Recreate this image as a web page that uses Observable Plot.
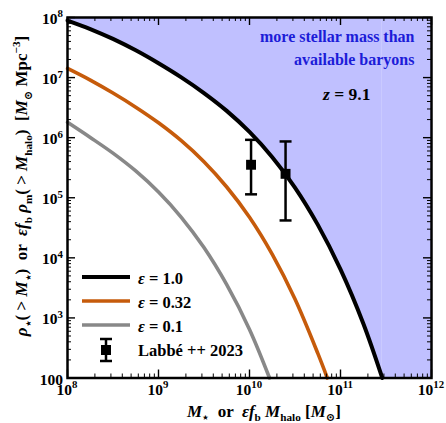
<!DOCTYPE html>
<html>
<head>
<meta charset="utf-8">
<script src="https://cdn.jsdelivr.net/npm/d3@7"></script>
<script src="https://cdn.jsdelivr.net/npm/@observablehq/plot@0.6"></script>
<style>
  html, body { margin: 0; padding: 0; background: #fff; }
  svg text, svg tspan { white-space: pre; font-family: "Liberation Serif", "DejaVu Serif", serif; }
</style>
</head>
<body>
<div id="chart"></div>
<script>
// ---- data ----
const massEps1 = [1e8, 1.78e8, 3.16e8, 5.62e8, 1e9, 1.78e9, 3.16e9, 5.62e9, 1e10, 1.78e10, 3.16e10, 5.62e10, 1e11, 1.78e11, 2.88e11];
const rhoEps1  = [8.91e7, 6.43e7, 4.40e7, 2.84e7, 1.73e7, 1.007e7, 5.52e6, 2.79e6, 1.245e6, 4.73e5, 1.48e5, 3.57e4, 6.43e3, 809, 100];

const massEps032 = [1e8, 1.78e8, 3.16e8, 5.62e8, 1e9, 1.78e9, 3.16e9, 5.62e9, 1e10, 1.78e10, 3.16e10, 5.62e10, 7.16e10];
const rhoEps032  = [1.42e7, 9.08e6, 5.53e6, 3.22e6, 1.77e6, 8.91e5, 3.98e5, 1.51e5, 4.73e4, 1.14e4, 2.06e3, 259, 100];

const massEps01 = [1e8, 1.78e8, 3.16e8, 5.62e8, 1e9, 1.78e9, 3.16e9, 5.62e9, 1e10, 1.66e10];
const rhoEps01  = [1.8e6, 1.007e6, 5.52e5, 2.79e5, 1.245e5, 4.73e4, 1.48e4, 3.57e3, 643, 100];

const labbeMass = [1.04e10, 2.49e10];
const labbeRho  = [3.54e5, 2.5e5];
const labbeLo   = [1.14e5, 4.19e4];
const labbeHi   = [9.2e5, 8.65e5];

const xDomain = [1e8, 1e12];
const yDomain = [100, 1e8];
const xTickExp = [8, 9, 10, 11, 12];
const yTickExp = [2, 3, 4, 5, 6, 7, 8];

const seriesNames = ["1.0", "0.32", "0.1"];
const seriesColors = ["#000000", "#c65b0b", "#888888"];
const seriesWidths = [4, 3.6, 3.6];

// ---- tables ----
const toRows = (xs, ys) => xs.map((x, i) => ({x, y: ys[i]}));
const eps1 = toRows(massEps1, rhoEps1);
const eps032 = toRows(massEps032, rhoEps032);
const eps01 = toRows(massEps01, rhoEps01);
const labbe = labbeMass.map((x, i) => ({x, y: labbeRho[i], lo: labbeLo[i], hi: labbeHi[i]}));

const W = 446, H = 423, mL = 67, mR = 15, mT = 17, mB = 45.5;
const fw = W - mL - mR, fh = H - mT - mB;

const majorX = xTickExp.map(e => Math.pow(10, e));
const majorY = yTickExp.map(e => Math.pow(10, e));
const minorX = d3.scaleLog().domain(xDomain).ticks().filter(v => !majorX.some(m => Math.abs(m - v) / m < 1e-9));
const minorY = d3.scaleLog().domain(yDomain).ticks().filter(v => !majorY.some(m => Math.abs(m - v) / m < 1e-9));

const capSymbol = {draw(ctx, size) { const r = Math.sqrt(size / Math.PI); ctx.moveTo(-r, 0); ctx.lineTo(r, 0); }};

const tickMarks = (len, sw, xs, ys) => [
  Plot.tickX(xs, {x: d => d, insetTop: fh - len, stroke: "#000", strokeWidth: sw}),
  Plot.tickX(xs, {x: d => d, insetBottom: fh - len, stroke: "#000", strokeWidth: sw}),
  Plot.tickY(ys, {y: d => d, insetRight: fw - len, stroke: "#000", strokeWidth: sw}),
  Plot.tickY(ys, {y: d => d, insetLeft: fw - len, stroke: "#000", strokeWidth: sw})
];

const FONT = "Liberation Serif, DejaVu Serif, serif";

const plot = Plot.plot({
  width: W, height: H,
  marginLeft: mL, marginRight: mR, marginTop: mT, marginBottom: mB,
  style: {background: "#fff", fontFamily: FONT},
  x: {type: "log", domain: xDomain, axis: null},
  y: {type: "log", domain: yDomain, axis: null},
  marks: [
    Plot.areaY(eps1, {x: "x", y1: "y", y2: yDomain[1], fill: "#c0c0ff", curve: "catmull-rom"}),
    Plot.rect([{x1: massEps1[massEps1.length - 1], x2: xDomain[1], y1: yDomain[0], y2: yDomain[1]}], {x1: "x1", x2: "x2", y1: "y1", y2: "y2", fill: "#c0c0ff"}),
    Plot.line(eps01, {x: "x", y: "y", stroke: seriesColors[2], strokeWidth: seriesWidths[2], curve: "catmull-rom"}),
    Plot.line(eps032, {x: "x", y: "y", stroke: seriesColors[1], strokeWidth: seriesWidths[1], curve: "catmull-rom"}),
    Plot.line(eps1, {x: "x", y: "y", stroke: seriesColors[0], strokeWidth: seriesWidths[0], curve: "catmull-rom"}),
    Plot.ruleX(labbe, {x: "x", y1: "lo", y2: "hi", stroke: "#000", strokeWidth: 2.5}),
    Plot.dot(labbe, {x: "x", y: "lo", symbol: capSymbol, r: 6, stroke: "#000", strokeWidth: 2.5}),
    Plot.dot(labbe, {x: "x", y: "hi", symbol: capSymbol, r: 6, stroke: "#000", strokeWidth: 2.5}),
    Plot.dot(labbe, {x: "x", y: "y", symbol: "square", r: 5.6, fill: "#000", stroke: null}),
    ...tickMarks(8, 1.4, majorX, majorY),
    ...tickMarks(4, 1, minorX, minorY),
    Plot.frame({stroke: "#000", strokeWidth: 2.5})
  ]
});

document.getElementById("chart").appendChild(plot);

// ---- rich text helpers ----
const svg = d3.select(plot);
const sx = plot.scale("x"), sy = plot.scale("y");

function rich(x, y, parts, size, opts = {}) {
  const t = svg.append("text")
    .attr("x", x).attr("y", y)
    .style("font-family", FONT)
    .attr("font-weight", "bold")
    .attr("font-size", size)
    .attr("fill", opts.fill || "#000")
    .attr("text-anchor", opts.anchor || "start");
  if (opts.rotate) t.attr("transform", `rotate(${opts.rotate} ${x} ${y})`);
  let cur = 0;
  for (const p of parts) {
    const target = p.sub ? size * 0.28 : p.sup ? -size * 0.42 : 0;
    const fs = (p.sub || p.sup) ? size * (p.scale || 0.66) : size * (p.scale || 1);
    t.append("tspan")
      .attr("dy", target - cur)
      .attr("font-size", fs)
      .style("font-family", FONT)
      .attr("font-style", p.i ? "italic" : "normal")
      .text(p.t);
    cur = target;
  }
  return t;
}

// tick labels
for (const e of xTickExp) {
  rich(sx.apply(Math.pow(10, e)), mT + fh + 17, [{t: "10"}, {t: String(e), sup: true, scale: 0.7}], 15.5, {anchor: "middle"});
}
for (const e of yTickExp) {
  const parts = e === 2 ? [{t: "100"}] : [{t: "10"}, {t: String(e), sup: true, scale: 0.7}];
  rich(mL - 4, sy.apply(Math.pow(10, e)) + 7, parts, 15.5, {anchor: "end"});
}

// axis titles
rich(mL + fw / 2 + 15, 416.5, [
  {t: "M", i: true}, {t: "⋆", sub: true}, {t: "  or  "},
  {t: "ε", i: true}, {t: "f", i: true}, {t: "b", sub: true}, {t: " "}, {t: "M", i: true}, {t: "halo", sub: true},
  {t: " ["}, {t: "M", i: true}, {t: "⊙", sub: true}, {t: "]"}
], 17, {anchor: "middle"});

rich(27, 186, [
  {t: "ρ", i: true}, {t: "⋆", sub: true}, {t: "( > "}, {t: "M", i: true}, {t: "⋆", sub: true}, {t: ")  or  "},
  {t: "ε", i: true}, {t: "f", i: true}, {t: "b", sub: true}, {t: " "}, {t: "ρ", i: true}, {t: "m", sub: true},
  {t: "( > "}, {t: "M", i: true}, {t: "halo", sub: true}, {t: ")  ["}, {t: "M", i: true}, {t: "⊙", sub: true},
  {t: " Mpc"}, {t: "−3", sup: true}, {t: "]"}
], 17, {anchor: "middle", rotate: -90});

// annotations
rich(414.5, 42, [{t: "more stellar mass than"}], 16, {anchor: "end", fill: "#1c1cd8"});
rich(414.5, 65, [{t: "available baryons"}], 16, {anchor: "end", fill: "#1c1cd8"});
rich(323, 100, [{t: "z", i: true}, {t: " = 9.1"}], 17.5, {anchor: "start"});

// legend
const legY = [277, 301, 325];
seriesNames.forEach((n, i) => {
  svg.append("line").attr("x1", 82).attr("x2", 130).attr("y1", legY[i]).attr("y2", legY[i])
    .attr("stroke", seriesColors[i]).attr("stroke-width", seriesWidths[i]);
  rich(138, legY[i] + 6.5, [{t: "ε", i: true}, {t: " = " + n}], 16.5);
});
svg.append("line").attr("x1", 106).attr("x2", 106).attr("y1", 339).attr("y2", 361).attr("stroke", "#000").attr("stroke-width", 2.5);
svg.append("line").attr("x1", 100).attr("x2", 112).attr("y1", 339).attr("y2", 339).attr("stroke", "#000").attr("stroke-width", 2.5);
svg.append("line").attr("x1", 100).attr("x2", 112).attr("y1", 361).attr("y2", 361).attr("stroke", "#000").attr("stroke-width", 2.5);
svg.append("rect").attr("x", 101).attr("y", 345).attr("width", 10).attr("height", 10).attr("fill", "#000");
rich(138, 355.5, [{t: "Labbé ++ 2023"}], 16.5);
</script>
</body>
</html>
